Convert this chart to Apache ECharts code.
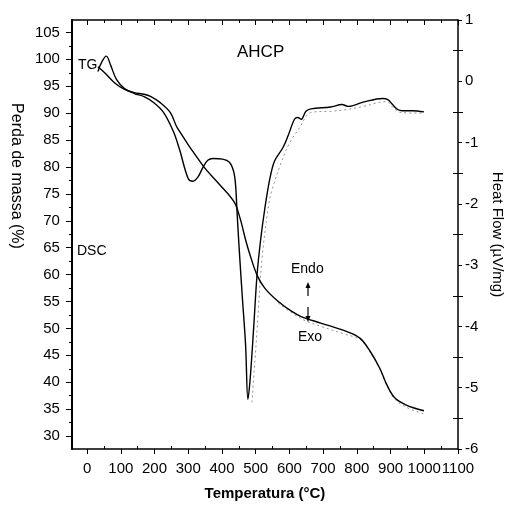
<!DOCTYPE html>
<html>
<head>
<meta charset="utf-8">
<script src="https://cdn.jsdelivr.net/npm/echarts@6/dist/echarts.min.js"></script>
<style>
html,body{margin:0;padding:0;background:#fff;}
#chart{width:513px;height:506px;}
</style>
</head>
<body>
<div id="chart"></div>
<script>
// ---- data ----
const xTicks = [0,100,200,300,400,500,600,700,800,900,1000,1100];
const xMinorTicks = [50,150,250,350,450,550,650,750,850,950,1050];
const leftTicks = [30,35,40,45,50,55,60,65,70,75,80,85,90,95,100,105];
const leftMinorTicks = [32.5,37.5,42.5,47.5,52.5,57.5,62.5,67.5,72.5,77.5,82.5,87.5,92.5,97.5,102.5];
const rightHalfTicks = [-5.5,-4.5,-3.5,-2.5,-1.5,-0.5,0.5];

// TG (mass %, left axis)
const tgT = [32,52,82,111,140,169,188,218,247,268,344,392,436,454,469,480,504,528,567,606,635,693,771,809,838,868,887,911,945,999];
const tgV = [98.6,97.5,95.6,94.4,93.8,93.5,93.1,91.9,90.1,87.2,80.2,76.8,73.5,70.4,66.7,64.3,59.9,57.4,55.0,53.2,52.2,51.0,49.4,48.2,45.9,42.6,39.8,37.2,35.8,34.7];

// TG second run (dotted)
const tg2T = [567,635,693,771,809,838,868,887,911,945,1004];
const tg2V = [54.7,51.8,50.4,48.8,48.0,45.7,42.4,39.6,37.0,35.4,34.0];

// DSC (heat flow, right axis)
const dscT = [32,44,57,70,87,111,140,169,198,227,256,274,300,314,329,344,358,373,402,422,434,440,445,451,460,470,477,484,494,504,515,527,542,556,581,596,615,625,635,649,664,722,756,775,819,877,892,906,921,935,965,999];
const dscV = [0.16,0.32,0.41,0.26,0.03,-0.12,-0.20,-0.25,-0.35,-0.51,-0.82,-1.11,-1.59,-1.63,-1.56,-1.40,-1.29,-1.26,-1.27,-1.32,-1.46,-1.67,-2.16,-2.73,-3.49,-4.30,-5.19,-4.83,-4.02,-3.16,-2.57,-2.08,-1.59,-1.30,-1.08,-0.89,-0.62,-0.59,-0.62,-0.49,-0.45,-0.42,-0.38,-0.41,-0.34,-0.28,-0.30,-0.38,-0.46,-0.48,-0.48,-0.50];

// DSC second run (dotted)
const dsc2T = [489,504,518,538,547,576,601,630,654,673,722,771,819,887,911,931,999];
const dsc2V = [-5.24,-4.07,-2.94,-2.03,-1.80,-1.32,-1.00,-0.76,-0.54,-0.50,-0.49,-0.46,-0.41,-0.33,-0.45,-0.51,-0.52];

const zip = (a, b) => a.map((v, i) => [v, b[i]]);

const FONT = 'Liberation Sans, Arial, sans-serif';
const chart = echarts.init(document.getElementById('chart'), null, {renderer: 'canvas'});

const lineStyleAxis = {color: '#000', width: 1.5};
const plain = v => String(v);

const option = {
  animation: false,
  backgroundColor: '#fff',
  textStyle: {fontFamily: FONT, color: '#000'},
  title: {
    text: 'AHCP', left: 232, top: 39,
    textStyle: {fontFamily: FONT, fontSize: 17, fontWeight: 'normal', color: '#000'}
  },
  grid: {left: 67, right: 53, top: 20, bottom: 54, containLabel: false},
  xAxis: [
    {
      type: 'value', position: 'bottom', min: -45, max: 1100,
      axisLine: {show: true, onZero: false, lineStyle: lineStyleAxis},
      axisTick: {show: true, inside: false, length: 5, lineStyle: {color: '#000'}, customValues: xTicks},
      axisLabel: {show: true, customValues: xTicks, formatter: plain, fontSize: 15, color: '#000', fontFamily: FONT, margin: 12},
      splitLine: {show: false},
      name: 'Temperatura (°C)', nameLocation: 'middle', nameGap: 37,
      nameTextStyle: {fontSize: 15, fontWeight: 'bold', color: '#000', fontFamily: FONT}
    },
    {
      type: 'value', position: 'bottom', min: -45, max: 1100,
      axisLine: {show: false, onZero: false},
      axisTick: {show: true, inside: true, length: 3, lineStyle: {color: '#000'}, customValues: xMinorTicks},
      axisLabel: {show: false}, splitLine: {show: false}
    },
    {
      type: 'value', position: 'top', min: -45, max: 1100,
      axisLine: {show: true, onZero: false, lineStyle: lineStyleAxis},
      axisTick: {show: true, inside: true, length: 5, lineStyle: {color: '#000'}, customValues: xTicks},
      axisLabel: {show: false}, splitLine: {show: false}
    },
    {
      type: 'value', position: 'top', min: -45, max: 1100,
      axisLine: {show: false, onZero: false},
      axisTick: {show: true, inside: true, length: 3, lineStyle: {color: '#000'}, customValues: xMinorTicks},
      axisLabel: {show: false}, splitLine: {show: false}
    }
  ],
  yAxis: [
    {
      type: 'value', position: 'left', min: 27.6, max: 107.3,
      axisLine: {show: true, onZero: false, lineStyle: {color: '#000', width: 2}},
      axisTick: {show: true, inside: false, length: 6, lineStyle: {color: '#000'}, customValues: leftTicks},
      axisLabel: {show: true, customValues: leftTicks, formatter: plain, fontSize: 15, color: '#000', fontFamily: FONT, margin: 12},
      splitLine: {show: false},
      name: 'Perda de massa (%)', nameLocation: 'middle', nameRotate: -90, nameGap: 40,
      nameTextStyle: {fontSize: 16, color: '#000', fontFamily: FONT, padding: [0, 117, 0, 0]}
    },
    {
      type: 'value', position: 'right', min: -6, max: 1, interval: 1,
      axisLine: {show: true, onZero: false, lineStyle: lineStyleAxis},
      axisTick: {show: true, inside: false, length: 4, lineStyle: {color: '#000'}},
      minorTick: {show: true, splitNumber: 2, length: 5, lineStyle: {color: '#000'}},
      axisLabel: {show: true, formatter: plain, fontSize: 15, color: '#000', fontFamily: FONT, margin: 7},
      splitLine: {show: false},
      name: 'Heat Flow (µV/mg)', nameLocation: 'middle', nameRotate: -90, nameGap: 32,
      nameTextStyle: {fontSize: 15, color: '#000', fontFamily: FONT}
    },
    {
      type: 'value', position: 'left', min: 27.6, max: 107.3,
      axisLine: {show: false, onZero: false},
      axisTick: {show: true, inside: false, length: 3, lineStyle: {color: '#000'}, customValues: leftMinorTicks},
      axisLabel: {show: false}, splitLine: {show: false}
    },
    {
      type: 'value', position: 'right', min: -6, max: 1,
      axisLine: {show: false, onZero: false},
      axisTick: {show: true, inside: true, length: 5, lineStyle: {color: '#000'}, customValues: rightHalfTicks},
      axisLabel: {show: false}, splitLine: {show: false}
    }
  ],
  series: [
    {
      name: 'TG', type: 'line', xAxisIndex: 0, yAxisIndex: 0,
      data: zip(tgT, tgV), showSymbol: false, smooth: 0.35,
      lineStyle: {color: '#000', width: 1.4}, z: 3
    },
    {
      name: 'TG (2)', type: 'line', xAxisIndex: 0, yAxisIndex: 0,
      data: zip(tg2T, tg2V), showSymbol: false, smooth: 0.35,
      lineStyle: {color: '#777', width: 0.8, type: [2, 3]}, z: 2
    },
    {
      name: 'DSC', type: 'line', xAxisIndex: 0, yAxisIndex: 1,
      data: zip(dscT, dscV), showSymbol: false, smooth: 0.35,
      lineStyle: {color: '#000', width: 1.4}, z: 3
    },
    {
      name: 'DSC (2)', type: 'line', xAxisIndex: 0, yAxisIndex: 1,
      data: zip(dsc2T, dsc2V), showSymbol: false, smooth: 0.35,
      lineStyle: {color: '#777', width: 0.8, type: [2, 3]}, z: 2
    }
  ],
  graphic: [
    {type: 'text', left: 78, top: 58, style: {text: 'TG', font: '14px ' + FONT, fill: '#000'}},
    {type: 'text', left: 77, top: 244, style: {text: 'DSC', font: '14px ' + FONT, fill: '#000'}},
    {type: 'text', left: 291, top: 262, style: {text: 'Endo', font: '14px ' + FONT, fill: '#000'}},
    {type: 'text', left: 298, top: 330, style: {text: 'Exo', font: '14px ' + FONT, fill: '#000'}},
    {type: 'line', shape: {x1: 308, y1: 296, x2: 308, y2: 286}, style: {stroke: '#000', lineWidth: 1.2}},
    {type: 'polygon', shape: {points: [[308, 282], [305.5, 288], [310.5, 288]]}, style: {fill: '#000'}},
    {type: 'line', shape: {x1: 308, y1: 307, x2: 308, y2: 318}, style: {stroke: '#000', lineWidth: 1.2}},
    {type: 'polygon', shape: {points: [[308, 322], [305.5, 316], [310.5, 316]]}, style: {fill: '#000'}}
  ]
};
chart.setOption(option);
</script>
</body>
</html>
